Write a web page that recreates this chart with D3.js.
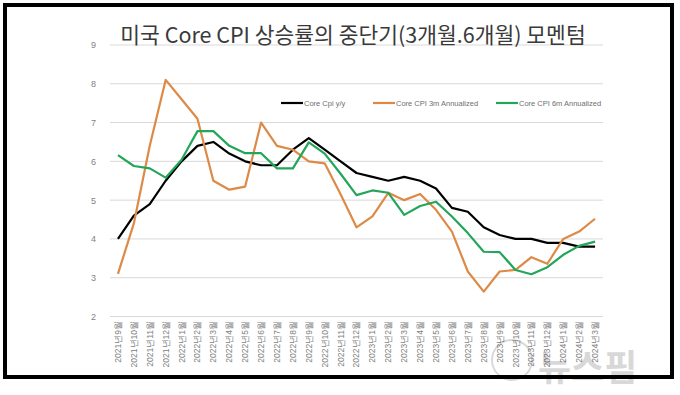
<!DOCTYPE html>
<html>
<head>
<meta charset="utf-8">
<script src="https://cdn.jsdelivr.net/npm/d3@7"></script>
<style>
  body { margin: 0; background: #fff; }
  svg { display: block; font-family: "Noto Sans CJK KR", "Noto Sans", sans-serif; }
</style>
</head>
<body>
<script>
// months 2021-09 .. 2024-03
var months = ["2021년9월","2021년10월","2021년11월","2021년12월","2022년1월","2022년2월","2022년3월","2022년4월",
    "2022년5월","2022년6월","2022년7월","2022년8월","2022년9월","2022년10월","2022년11월","2022년12월",
    "2023년1월","2023년2월","2023년3월","2023년4월","2023년5월","2023년6월","2023년7월","2023년8월",
    "2023년9월","2023년10월","2023년11월","2023년12월","2024년1월","2024년2월","2024년3월"];

var coreYoY = [4.0, 4.6, 4.9, 5.5, 6.0, 6.4, 6.5, 6.2, 6.0, 5.9, 5.9, 6.3, 6.6, 6.3, 6.0, 5.7,
    5.6, 5.5, 5.6, 5.5, 5.3, 4.8, 4.7, 4.3, 4.1, 4.0, 4.0, 3.9, 3.9, 3.8, 3.8];
var core3m = [3.1, 4.4, 6.4, 8.1, 7.6, 7.1, 5.5, 5.27, 5.35, 7.0, 6.4, 6.3, 6.0, 5.95, 5.15, 4.3,
    4.58, 5.19, 5.0, 5.16, 4.75, 4.19, 3.16, 2.64, 3.16, 3.2, 3.53, 3.36, 4.0, 4.19, 4.52];
var core6m = [6.16, 5.88, 5.82, 5.58, 6.04, 6.78, 6.78, 6.4, 6.21, 6.21, 5.82, 5.82, 6.49, 6.2, 5.68, 5.13,
    5.25, 5.19, 4.62, 4.85, 4.96, 4.58, 4.15, 3.67, 3.66, 3.2, 3.09, 3.27, 3.59, 3.82, 3.93];

var yTicks = [2, 3, 4, 5, 6, 7, 8, 9];
var seriesNames = ["Core Cpi y/y", "Core CPI 3m Annualized", "Core CPI 6m Annualized"];
var seriesColors = ["#000000", "#dd8a47", "#23a55a"];

var w = 680, h = 395;
var svg = d3.select("body").append("svg")
    .attr("width", w)
    .attr("height", h);

// frame
svg.append("rect")
    .attr("x", 5).attr("y", 5)
    .attr("width", 667).attr("height", 372)
    .attr("fill", "#fff")
    .attr("stroke", "#000")
    .attr("stroke-width", 4);

var x = d3.scaleBand()
    .domain(months)
    .range([110, 603]);

var y = d3.scaleLinear()
    .domain([2, 9])
    .range([316.5, 45]);

// gridlines
svg.append("g")
    .selectAll("line")
    .data(yTicks)
    .enter()
    .append("line")
    .attr("x1", 110).attr("x2", 603)
    .attr("y1", function(d){ return y(d); })
    .attr("y2", function(d){ return y(d); })
    .attr("stroke", "#d9d9d9")
    .attr("stroke-width", 1);

// y axis labels
var yAxis = d3.axisLeft(y).tickValues(yTicks).tickFormat(d3.format("d")).tickSize(0).tickPadding(8);
var gy = svg.append("g")
    .attr("transform", "translate(104,0)")
    .call(yAxis);
gy.select(".domain").remove();
gy.selectAll("text")
    .attr("fill", "#7f7f7f")
    .attr("font-size", 9)
    .attr("font-family", "Liberation Sans, sans-serif");

// x axis labels
var xAxis = d3.axisBottom(x).tickSize(0).tickPadding(0);
var gx = svg.append("g")
    .attr("transform", "translate(0,321)")
    .call(xAxis);
gx.select(".domain").remove();
gx.selectAll("text")
    .attr("fill", "#7f7f7f")
    .attr("font-size", 8.5)
    .attr("text-anchor", "end")
    .attr("dy", "0.35em")
    .attr("transform", "rotate(-90)")
    .attr("x", 0)
    .attr("y", 0);

// lines
var line = d3.line()
    .x(function(d, i){ return x(months[i]) + x.bandwidth() / 2; })
    .y(function(d){ return y(d); });

[coreYoY, core3m, core6m].forEach(function(s, i){
    svg.append("path")
        .datum(s)
        .attr("fill", "none")
        .attr("stroke", seriesColors[i])
        .attr("stroke-width", 2.2)
        .attr("stroke-linejoin", "round")
        .attr("d", line);
});

// title
svg.append("text")
    .attr("x", 353).attr("y", 43)
    .attr("text-anchor", "middle")
    .attr("font-size", 21.5)
    .attr("fill", "#3a3a3a")
    .text("미국 Core CPI 상승률의 중단기(3개월.6개월) 모멘텀");

// legend
var legendX = [281, 373, 496];
var legend = svg.append("g");
seriesNames.forEach(function(name, i){
    legend.append("line")
        .attr("x1", legendX[i]).attr("x2", legendX[i] + 22)
        .attr("y1", 103).attr("y2", 103)
        .attr("stroke", seriesColors[i])
        .attr("stroke-width", 2.2);
    legend.append("text")
        .attr("x", legendX[i] + 23).attr("y", 106)
        .attr("font-size", 7.5)
        .attr("fill", "#6f6f6f")
        .attr("font-family", "Liberation Sans, sans-serif")
        .text(name);
});

// watermark
var wm = svg.append("g").attr("opacity", 0.15);
wm.append("circle")
    .attr("cx", 512).attr("cy", 360).attr("r", 20)
    .attr("fill", "none")
    .attr("stroke", "#000")
    .attr("stroke-width", 2);
wm.append("text")
    .attr("x", 538).attr("y", 381)
    .attr("font-size", 36)
    .attr("font-weight", "bold")
    .attr("fill", "#000")
    .text("뉴스핌");
</script>
</body>
</html>
